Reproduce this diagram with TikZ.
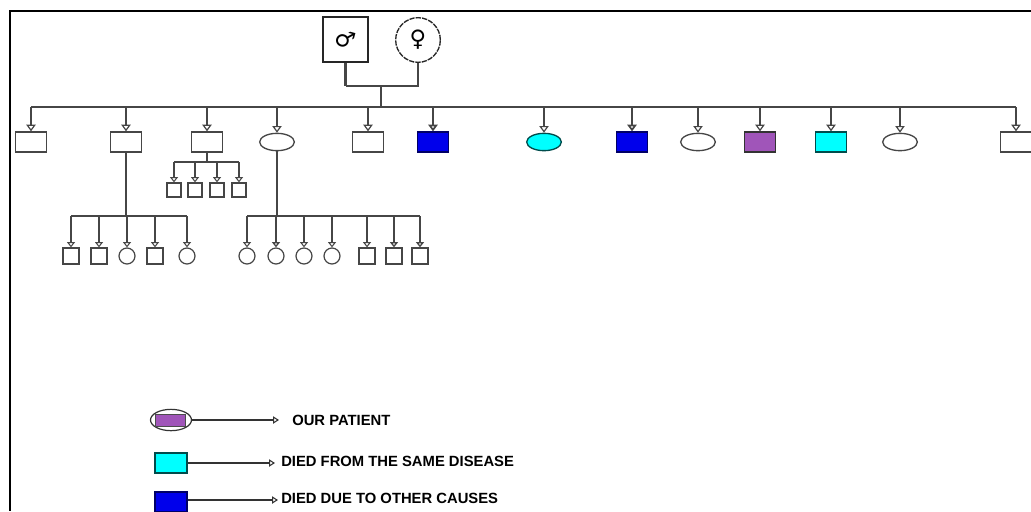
\documentclass[tikz,border=0pt]{standalone}
\usepackage{fontspec}
\setmainfont{Liberation Sans}
\newfontfamily\symfont{DejaVu Sans}
\usepackage{tikz}
\usetikzlibrary{arrows.meta,shapes.geometric}

\definecolor{linegray}{RGB}{70,70,70}
\definecolor{pedblue}{RGB}{0,0,235}
\definecolor{pedcyan}{RGB}{0,255,255}
\definecolor{pedpurple}{RGB}{160,85,185}

\begin{document}
\begin{tikzpicture}[x=0.75pt,y=-0.75pt]
\tikzstyle{male}=[rectangle,draw=linegray,line width=1pt,fill=white,minimum width=23pt,minimum height=15pt,inner sep=0]
\tikzstyle{female}=[ellipse,draw=linegray,line width=1pt,fill=white,minimum width=26pt,minimum height=13pt,inner sep=0]
\tikzstyle{kid_m}=[rectangle,draw=linegray,line width=0.9pt,minimum size=12pt,inner sep=0]
\tikzstyle{kid_f}=[circle,draw=linegray,line width=0.9pt,minimum size=12pt,inner sep=0]
\tikzstyle{tiny_m}=[rectangle,draw=linegray,line width=0.9pt,minimum size=10.5pt,inner sep=0]
\tikzstyle{down}=[draw=linegray,line width=0.9pt,-{Triangle[open,length=5pt,width=7pt]}]
\tikzstyle{down_small}=[draw=linegray,line width=0.8pt,-{Triangle[open,length=4pt,width=6pt]}]
\tikzstyle{bar}=[draw=linegray,line width=0.9pt]
\tikzstyle{legend_text}=[anchor=west,inner sep=0,font=\bfseries\fontsize{11.1}{13}\selectfont]
\tikzstyle{legend_arrow}=[draw=black!80,line width=0.8pt,-{Triangle[open,length=4.5pt,width=5.5pt]}]

\clip (0,0) rectangle (1031,511);
\fill[white] (0,0) rectangle (1031,511);

% frame
\draw[line width=1.5pt] (1031,11) -- (10,11) -- (10,511);

% parents
\node[rectangle,draw=black!85,line width=1.1pt,minimum size=33.75pt,inner sep=0] (father) at (345.5,39.5) {\symfont\bfseries\fontsize{17}{17}\selectfont\rotatebox{-15}{♂}};
\node[circle,draw=black!85,line width=1pt,dash pattern=on 4pt off 0.8pt,minimum size=33.5pt,inner sep=0] (mother) at (418,40) {\symfont\fontsize{17}{17}\selectfont ♀};
\coordinate (couple_bar) at (381,86);
\coordinate (sib_bar) at (381,107);
\draw[bar,line width=2pt] (father.south) -- (father.south |- couple_bar);
\draw[bar] (father.south |- couple_bar) -| (mother.south);
\draw[bar] (couple_bar) -- (sib_bar);

% children
\node[male] (c1) at (31,142) {};
\node[male] (c2) at (126,142) {};
\node[male] (c3) at (207,142) {};
\node[female,minimum width=26pt] (c4) at (277,142) {};
\node[male] (c5) at (368,142) {};
\node[male,fill=pedblue,draw=blue!40!black] (c6) at (433,142) {};
\node[female,fill=pedcyan,draw=teal!60!black] (c7) at (544,142) {};
\node[male,fill=pedblue,draw=blue!40!black] (c8) at (632,142) {};
\node[female] (c9) at (698,142) {};
\node[male,fill=pedpurple,draw=black!80] (c10) at (760,142) {};
\node[male,fill=pedcyan,draw=teal!60!black] (c11) at (831,142) {};
\node[female] (c12) at (900,142) {};
\node[male] (c13) at (1016,142) {};

\draw[bar] (c1 |- sib_bar) -- (c13 |- sib_bar);
\draw[down] (c1 |- sib_bar) -- (c1.north);
\draw[down] (c2 |- sib_bar) -- (c2.north);
\draw[down] (c3 |- sib_bar) -- (c3.north);
\draw[down] (c4 |- sib_bar) -- (c4.north);
\draw[down] (c5 |- sib_bar) -- (c5.north);
\draw[down,line width=1.5pt] (c6 |- sib_bar) -- (c6.north);
\draw[down] (c7 |- sib_bar) -- (c7.north);
\draw[down,line width=1.5pt] (c8 |- sib_bar) -- (c8.north);
\draw[down] (c9 |- sib_bar) -- (c9.north);
\draw[down] (c10 |- sib_bar) -- (c10.north);
\draw[down] (c11 |- sib_bar) -- (c11.north);
\draw[down] (c12 |- sib_bar) -- (c12.north);
\draw[down] (c13 |- sib_bar) -- (c13.north);

% grandchildren of c3
\coordinate (g3_bar) at (207,162);
\node[tiny_m] (g3_1) at (174,190) {};
\node[tiny_m] (g3_2) at (195,190) {};
\node[tiny_m] (g3_3) at (217,190) {};
\node[tiny_m] (g3_4) at (239,190) {};
\draw[bar] (c3.south) -- (g3_bar);
\draw[bar] (g3_1 |- g3_bar) -- (g3_4 |- g3_bar);
\draw[down_small] (g3_1 |- g3_bar) -- (g3_1.north);
\draw[down_small] (g3_2 |- g3_bar) -- (g3_2.north);
\draw[down_small] (g3_3 |- g3_bar) -- (g3_3.north);
\draw[down_small] (g3_4 |- g3_bar) -- (g3_4.north);

% grandchildren of c2
\coordinate (g2_bar) at (126,216);
\node[kid_m] (g2_1) at (71,256) {};
\node[kid_m] (g2_2) at (99,256) {};
\node[kid_f] (g2_3) at (127,256) {};
\node[kid_m] (g2_4) at (155,256) {};
\node[kid_f] (g2_5) at (187,256) {};
\draw[bar] (c2.south) -- (g2_bar);
\draw[bar] (g2_1 |- g2_bar) -- (g2_5 |- g2_bar);
\draw[down_small] (g2_1 |- g2_bar) -- (g2_1.north);
\draw[down_small] (g2_2 |- g2_bar) -- (g2_2.north);
\draw[down_small] (g2_3 |- g2_bar) -- (g2_3.north);
\draw[down_small] (g2_4 |- g2_bar) -- (g2_4.north);
\draw[down_small] (g2_5 |- g2_bar) -- (g2_5.north);

% grandchildren of c4
\coordinate (g4_bar) at (277,216);
\node[kid_f] (g4_1) at (247,256) {};
\node[kid_f] (g4_2) at (276,256) {};
\node[kid_f] (g4_3) at (304,256) {};
\node[kid_f] (g4_4) at (332,256) {};
\node[kid_m] (g4_5) at (367,256) {};
\node[kid_m] (g4_6) at (394,256) {};
\node[kid_m] (g4_7) at (420,256) {};
\draw[bar] (c4.south) -- (g4_bar);
\draw[bar] (g4_1 |- g4_bar) -- (g4_7 |- g4_bar);
\draw[down_small] (g4_1 |- g4_bar) -- (g4_1.north);
\draw[down_small,line width=1.3pt] (g4_2 |- g4_bar) -- (g4_2.north);
\draw[down_small] (g4_3 |- g4_bar) -- (g4_3.north);
\draw[down_small] (g4_4 |- g4_bar) -- (g4_4.north);
\draw[down_small] (g4_5 |- g4_bar) -- (g4_5.north);
\draw[down_small,line width=1.3pt] (g4_6 |- g4_bar) -- (g4_6.north);
\draw[down_small,line width=1.3pt] (g4_7 |- g4_bar) -- (g4_7.north);

% legend
\node[ellipse,draw=black!80,line width=0.9pt,minimum width=30.75pt,minimum height=16pt,inner sep=0] (leg_patient) at (171,420) {};
\node[rectangle,fill=pedpurple,draw=black!70,line width=0.6pt,minimum width=22.5pt,minimum height=9pt,inner sep=0] (leg_patient_box) at (170,420) {};
\coordinate (leg_patient_end) at (279,420);
\draw[legend_arrow] (leg_patient.east) -- (leg_patient_end);
\node[legend_text] (txt_patient) at (292,420) {OUR PATIENT};

\node[rectangle,fill=pedcyan,draw=teal!60!black,line width=0.9pt,minimum width=24pt,minimum height=15pt,inner sep=0] (leg_same) at (171,463) {};
\coordinate (leg_same_end) at (275,463);
\draw[legend_arrow] (leg_same.east) -- (leg_same_end);
\node[legend_text] (txt_same) at (281,461) {DIED FROM THE SAME DISEASE};

\node[rectangle,fill=pedblue,draw=blue!40!black,line width=0.9pt,minimum width=24pt,minimum height=15pt,inner sep=0] (leg_other) at (171,502) {};
\coordinate (leg_other_end) at (278,500);
\draw[legend_arrow] (leg_other.east |- leg_other_end) -- (leg_other_end);
\node[legend_text] (txt_other) at (281,498) {DIED DUE TO OTHER CAUSES};

\end{tikzpicture}
\end{document}
